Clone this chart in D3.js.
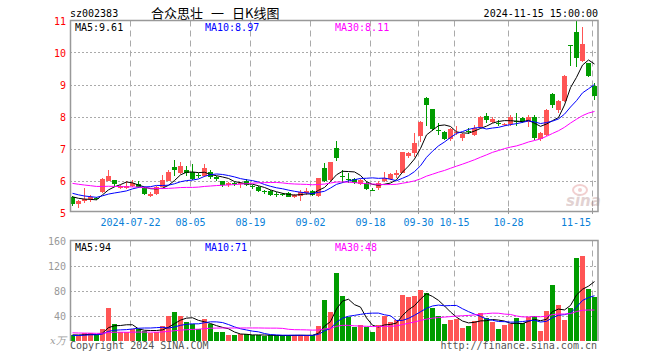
<!DOCTYPE html>
<html><head><meta charset="utf-8">
<script src="https://cdn.jsdelivr.net/npm/d3@7"></script>
<style>body{margin:0;background:#fff}text{font-family:"DejaVu Sans Mono",monospace}</style>
</head><body><svg id="c" width="660" height="360"></svg>
<script>
// ---------- data ----------
const dates = ["07-08","07-09","07-10","07-11","07-12","07-15","07-16","07-17","07-18","07-19",
"07-22","07-23","07-24","07-25","07-26","07-29","07-30","07-31","08-01","08-02",
"08-05","08-06","08-07","08-08","08-09","08-12","08-13","08-14","08-15","08-16",
"08-19","08-20","08-21","08-22","08-23","08-26","08-27","08-28","08-29","08-30",
"09-02","09-03","09-04","09-05","09-06","09-09","09-10","09-11","09-12","09-13",
"09-18","09-19","09-20","09-23","09-24","09-25","09-26","09-27","09-30","10-08",
"10-09","10-10","10-11","10-14","10-15","10-16","10-17","10-18","10-21","10-22",
"10-23","10-24","10-25","10-28","10-29","10-30","10-31","11-01","11-04","11-05",
"11-06","11-07","11-08","11-11","11-12","11-13","11-14","11-15"];
const openP = [5.49,5.26,5.36,5.43,5.46,5.65,6.00,6.02,5.76,5.77,
5.84,5.89,5.76,5.53,5.58,5.81,6.00,6.43,6.25,6.33,
6.28,6.18,6.15,6.28,6.10,5.98,5.86,5.92,5.91,6.00,
5.82,5.81,5.66,5.67,5.58,5.58,5.62,5.50,5.52,5.60,
5.67,5.52,6.38,6.02,7.03,6.13,6.05,6.04,5.89,5.91,
5.71,5.78,5.97,6.04,6.18,6.25,6.75,6.85,7.39,8.58,
8.23,7.59,7.53,7.29,7.48,7.33,7.54,7.42,7.68,8.02,
7.84,7.80,7.75,7.76,7.86,7.95,7.82,7.98,7.29,7.42,
8.70,8.20,8.47,10.22,10.65,9.74,9.66,8.96];
const closeP = [5.27,5.37,5.42,5.49,5.43,6.05,6.15,5.89,5.84,5.84,
5.91,5.81,5.58,5.58,5.81,6.02,6.26,6.33,6.46,6.22,
6.06,6.16,6.39,6.10,6.04,5.86,5.93,5.90,5.93,5.86,
5.80,5.68,5.64,5.55,5.57,5.56,5.50,5.54,5.63,5.67,
5.56,6.07,5.98,6.57,6.71,6.11,6.03,5.92,6.02,5.73,
5.69,5.91,6.07,6.20,6.25,6.88,6.85,7.18,7.84,8.37,
7.61,7.57,7.29,7.60,7.53,7.45,7.52,7.63,8.00,7.89,
7.92,7.78,7.77,7.98,7.83,7.84,7.98,7.32,7.49,8.20,
8.36,8.47,9.27,10.20,9.82,10.27,9.27,8.64];
const highP = [5.52,5.38,5.77,5.55,5.48,6.07,6.33,6.03,5.86,5.99,
6.02,6.00,5.79,5.65,5.84,6.17,6.33,6.64,6.59,6.46,
6.52,6.23,6.52,6.33,6.14,6.00,5.95,5.95,5.95,6.05,
5.86,5.83,5.69,5.70,5.63,5.62,5.64,5.58,5.69,5.76,
5.70,6.09,6.54,6.59,7.23,6.33,6.25,6.07,6.05,5.94,
5.77,6.00,6.28,6.25,6.33,6.90,6.90,7.47,7.86,8.60,
8.25,7.79,7.56,7.64,7.71,7.48,7.63,7.72,8.03,8.10,
8.00,7.88,7.80,8.05,8.10,7.98,8.05,8.05,7.53,8.22,
8.72,8.53,9.30,10.22,11.00,10.81,9.68,9.04];
const lowP = [5.21,5.13,5.29,5.33,5.40,5.62,5.97,5.80,5.72,5.74,
5.80,5.76,5.55,5.48,5.54,5.79,5.97,6.15,6.21,6.13,
6.03,6.08,6.12,6.04,5.99,5.80,5.80,5.83,5.78,5.82,
5.75,5.65,5.58,5.52,5.48,5.52,5.47,5.46,5.37,5.56,
5.52,5.50,5.95,5.98,6.62,5.91,5.92,5.88,5.86,5.70,
5.66,5.70,5.94,6.01,6.07,6.22,6.70,6.74,7.21,7.70,
7.55,7.42,7.26,7.25,7.41,7.25,7.45,7.38,7.65,7.79,
7.79,7.70,7.70,7.70,7.70,7.80,7.68,7.26,7.22,7.38,
8.26,8.12,8.44,9.58,9.56,9.69,9.24,8.52];
const volume = [8,8,12,12,8,19,52,27,14,14,
19,19,16,12,14,24,40,45,40,30,
27,19,34,26,13,13,8,8,10,10.7,
8,8,7,9,8,8,8,8,9.6,8,
8,24,65.6,45.3,108.8,72,38.4,22.4,25.6,22.4,
13.3,24.5,38.9,29.3,33.6,73.6,70.4,72,81.6,76.8,
51.7,38.9,27.2,33.6,35.2,20.8,24,32,44.8,36.8,
30.4,19.2,24.5,26.1,36.8,28.3,37.3,40,16,48,
89.6,57.6,33.6,51.7,132,135,82.7,70];
// sessions before the visible window (estimated from where the MA lines start)
const warmupClose = [6.20,6.15,6.10,6.12,6.05,6.00,6.02,5.98,6.05,6.02,
6.05,6.10,6.08,6.02,6.12,6.06,6.00,6.04,6.08,6.06,
5.85,5.78,5.70,5.64,5.58,5.60,5.55,5.53,5.50];
const warmupVolume = [18,16,15,17,14,16,15,13,16,15,14,16,15,16,
13,12,14,11,12,11,8,7,6,7,7,9,10,8,10];
const priceTicks = [5,6,7,8,9,10,11];
const volTicks = [40,80,120,160];
const dateTicks = ["07-22","08-05","08-19","09-02","09-18","09-30","10-15","10-28","11-15"];
const dateTickLabels = ["2024-07-22","08-05","08-19","09-02","09-18","09-30","10-15","10-28","11-15"];
const maPeriods = [5,10,30];
const priceMaLabels = ["MA5:9.61","MA10:8.97","MA30:8.11"];
const volMaLabels = ["MA5:94","MA10:71","MA30:48"];
const code = "sz002383";
const titleParts = ["合众思壮", "一", "日K线图"];
const stamp = "2024-11-15 15:00:00";

// ---------- drawing ----------
const svg = d3.select("#c");
const L = 70, R = 598;
const UP = "#ff5555", DOWN = "#009c00", GRID = "#aaaaaa", FRAME = "#999999";
const maColors = ["#000000", "#0000ff", "#ff00ff"];

const x = d3.scaleBand().domain(dates).range([L, R]);
const cx = d => x(d) + 2.5;
const yP = d3.scaleLinear().domain([5, 11]).range([212.5, 20.5]);
const yV = d3.scaleLinear().domain([0, 160]).range([340.5, 240.5]);

const data = dates.map((d, i) => ({d, o: openP[i], c: closeP[i], h: highP[i], l: lowP[i], v: volume[i]}));

function movingAvg(warm, vals, n) {
  const all = warm.concat(vals);
  return vals.map((_, i) => {
    const end = warm.length + i;
    return d3.mean(all.slice(end - n + 1, end + 1));
  });
}

// header
svg.append("text").attr("x", 70).attr("y", 17).attr("font-size", 10).attr("fill", "#000").text(code);
const titleX = [151, 211, 232];
svg.append("g").selectAll("text").data(titleParts).join("text")
  .attr("x", (d, i) => titleX[i]).attr("y", 18).attr("font-size", 13)
  .style("font-family", "'Noto Sans CJK SC'").attr("fill", "#000").text(d => d);
svg.append("text").attr("x", 598).attr("y", 17).attr("font-size", 10).attr("text-anchor", "end").attr("fill", "#000").text(stamp);

// price gridlines
const gP = svg.append("g");
gP.selectAll("line.h").data(priceTicks.filter(t => t > 5 && t < 11)).join("line")
  .attr("x1", L).attr("x2", R).attr("y1", t => Math.round(yP(t)) + 0.5).attr("y2", t => Math.round(yP(t)) + 0.5)
  .attr("stroke", GRID).attr("stroke-dasharray", "2,2");
gP.selectAll("line.v").data(dateTicks).join("line")
  .attr("x1", d => x(d) + 0.5).attr("x2", d => x(d) + 0.5).attr("y1", 20.5).attr("y2", 211.5)
  .attr("stroke", GRID).attr("stroke-dasharray", "6,4");
// price labels
svg.append("g").selectAll("text").data(priceTicks).join("text")
  .attr("x", 66).attr("y", t => yP(t) + 4).attr("text-anchor", "end").attr("font-size", 10)
  .attr("fill", "#ff0000").text(t => t);

// volume gridlines
const gV = svg.append("g");
gV.selectAll("line.h").data(volTicks.filter(t => t < 160)).join("line")
  .attr("x1", L).attr("x2", R).attr("y1", t => Math.round(yV(t)) + 0.5).attr("y2", t => Math.round(yV(t)) + 0.5)
  .attr("stroke", GRID).attr("stroke-dasharray", "2,2");
gV.selectAll("line.v").data(dateTicks).join("line")
  .attr("x1", d => x(d) + 0.5).attr("x2", d => x(d) + 0.5).attr("y1", 240.5).attr("y2", 340.5)
  .attr("stroke", GRID).attr("stroke-dasharray", "6,4");
svg.append("g").selectAll("text").data(volTicks).join("text")
  .attr("x", 66).attr("y", t => yV(t) + 4).attr("text-anchor", "end").attr("font-size", 10)
  .attr("fill", "#999").text(t => t);
svg.append("text").attr("x", 50).attr("y", 344).attr("font-size", 10).attr("fill", "#999")
  .style("font-family", "'DejaVu Serif'").style("font-style", "italic").text("x万");

// watermark
const wm = svg.append("g").attr("opacity", 0.4);
wm.append("ellipse").attr("cx", 580).attr("cy", 190).attr("rx", 7).attr("ry", 5).attr("fill", "none").attr("stroke", "#e08a8a").attr("stroke-width", 2);
wm.append("circle").attr("cx", 580).attr("cy", 190).attr("r", 2).attr("fill", "#e08a8a");
wm.append("text").attr("x", 566).attr("y", 206).attr("font-size", 15).attr("font-weight", "bold")
  .style("font-style", "italic").style("font-family", "'DejaVu Sans'").attr("fill", "#b89090").text("sina");

// candles
const cg = svg.append("g");
const candle = cg.selectAll("g").data(data).join("g");
candle.append("line")
  .attr("x1", d => cx(d.d)).attr("x2", d => cx(d.d))
  .attr("y1", d => Math.round(yP(d.h))).attr("y2", d => Math.round(yP(d.l)))
  .attr("stroke", d => d.c >= d.o ? UP : DOWN);
candle.append("rect")
  .attr("x", d => x(d.d)).attr("width", 5)
  .attr("y", d => Math.round(yP(Math.max(d.o, d.c))))
  .attr("height", d => Math.max(1, Math.round(yP(Math.min(d.o, d.c))) - Math.round(yP(Math.max(d.o, d.c)))))
  .attr("fill", d => d.c >= d.o ? UP : DOWN);

// price MAs
maPeriods.forEach((n, k) => {
  const ma = movingAvg(warmupClose, closeP, n);
  svg.append("path").datum(dates.map((d, i) => [cx(d), yP(ma[i])]))
    .attr("d", d3.line()).attr("fill", "none").attr("stroke", maColors[k]).attr("stroke-width", 1);
});

// volume bars
svg.append("g").selectAll("rect").data(data).join("rect")
  .attr("x", d => x(d.d)).attr("width", 5)
  .attr("y", d => Math.round(yV(d.v))).attr("height", d => 341 - Math.round(yV(d.v)))
  .attr("fill", d => d.c >= d.o ? UP : DOWN);
maPeriods.forEach((n, k) => {
  const ma = movingAvg(warmupVolume, volume, n);
  svg.append("path").datum(dates.map((d, i) => [cx(d), yV(ma[i])]))
    .attr("d", d3.line()).attr("fill", "none").attr("stroke", maColors[k]).attr("stroke-width", 1);
});

// frames
svg.append("rect").attr("x", L + 0.5).attr("y", 20.5).attr("width", R - L - 0.5).attr("height", 191)
  .attr("fill", "none").attr("stroke", FRAME).attr("stroke-width", 1.5);
svg.append("path").attr("d", `M${L + 0.5},341V240.5H${R}V341`).attr("fill", "none").attr("stroke", FRAME).attr("stroke-width", 1.5);
// bottom ticks
svg.append("g").selectAll("line").data(dateTicks).join("line")
  .attr("x1", d => x(d) + 0.5).attr("x2", d => x(d) + 0.5).attr("y1", 208).attr("y2", 214)
  .attr("stroke", FRAME);

// date labels
svg.append("g").selectAll("text").data(dateTicks).join("text")
  .attr("x", (d, i) => Math.min(x(d) + 0.5, 591 - dateTickLabels[i].length * 3))
  .attr("y", 226).attr("text-anchor", "middle").attr("font-size", 10).attr("fill", "#0a7fd8")
  .text((d, i) => dateTickLabels[i]);

// MA legends
const legX = [75, 205, 335];
svg.append("g").selectAll("text").data(priceMaLabels).join("text")
  .attr("x", (d, i) => legX[i]).attr("y", 31).attr("font-size", 10).attr("fill", (d, i) => maColors[i]).text(d => d);
svg.append("g").selectAll("text").data(volMaLabels).join("text")
  .attr("x", (d, i) => legX[i]).attr("y", 251).attr("font-size", 10).attr("fill", (d, i) => maColors[i]).text(d => d);

// footer
svg.append("text").attr("x", 70).attr("y", 349).attr("font-size", 10).attr("fill", "#555").text("Copyright 2024 SINA.COM");
svg.append("text").attr("x", 597).attr("y", 349).attr("font-size", 10).attr("text-anchor", "end").attr("fill", "#555").text("http://finance.sina.com.cn");
</script></body></html>
